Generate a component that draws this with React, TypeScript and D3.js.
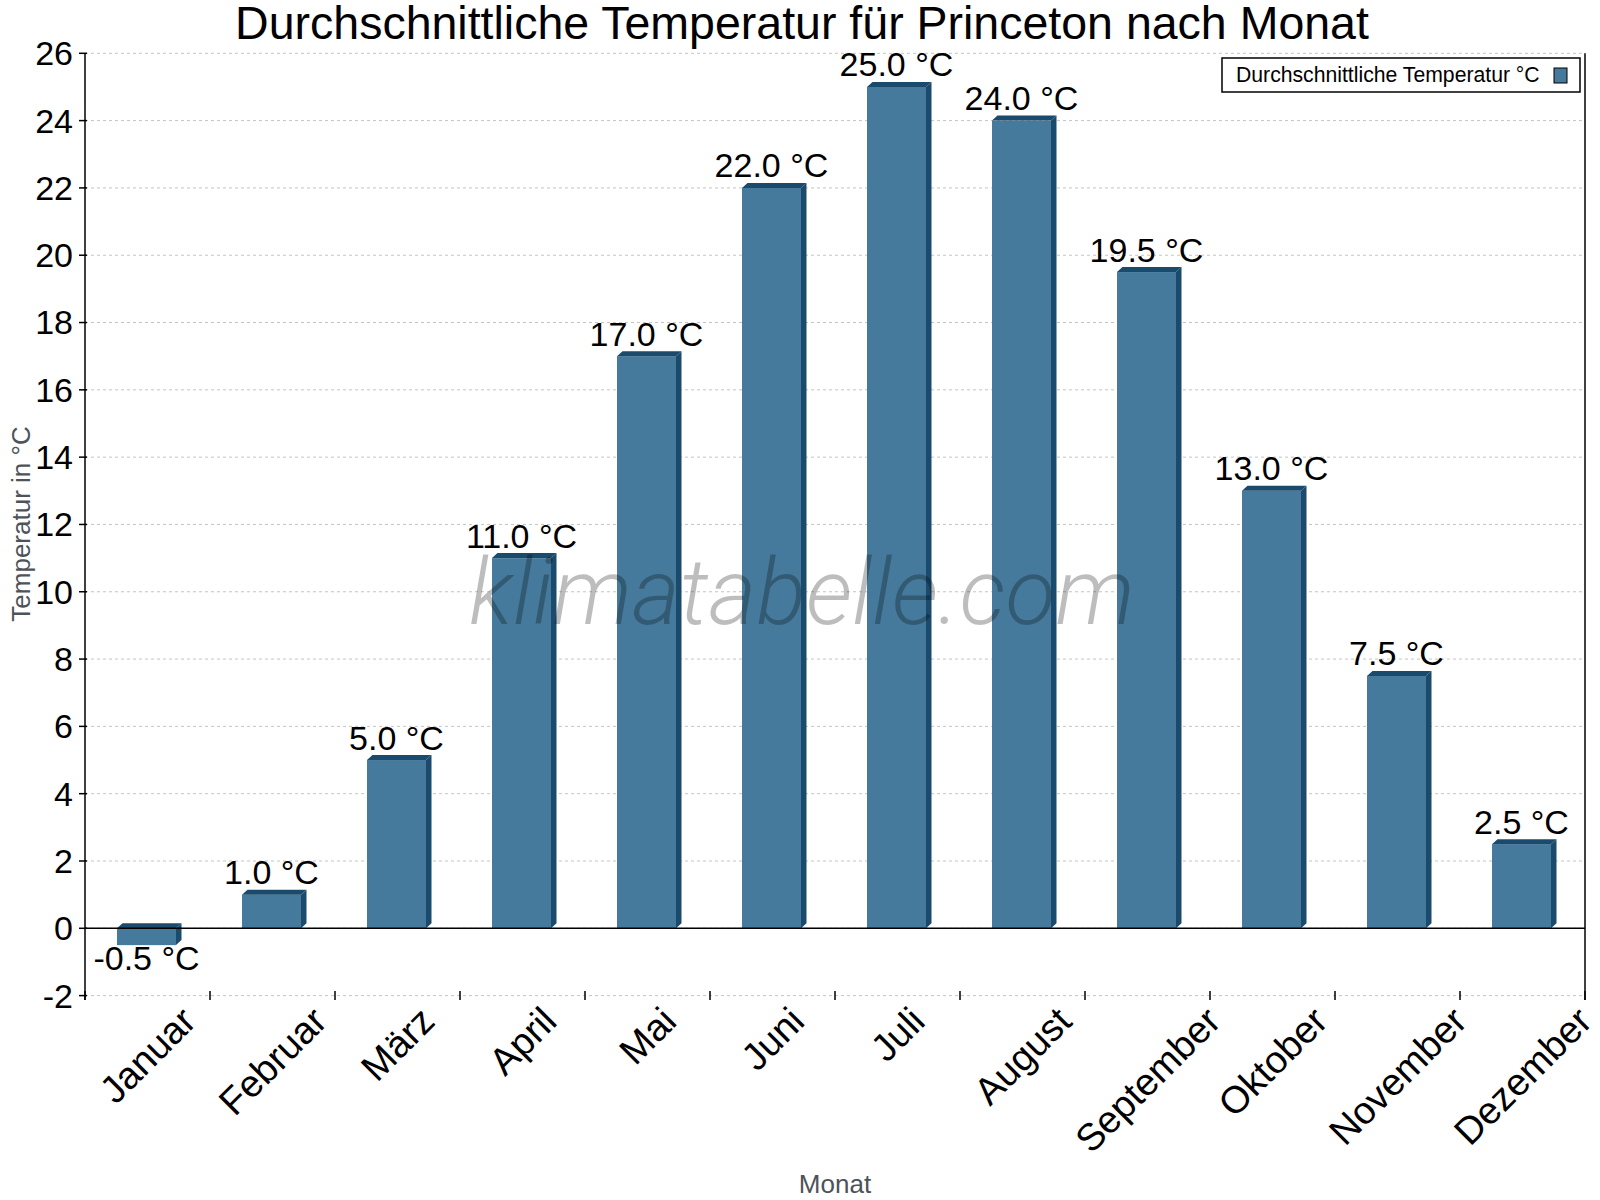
import React, { useEffect, useRef } from "react";
import * as d3 from "d3";

const months = ["Januar", "Februar", "März", "April", "Mai", "Juni", "Juli", "August", "September", "Oktober", "November", "Dezember"];
const temps = [-0.5, 1.0, 5.0, 11.0, 17.0, 22.0, 25.0, 24.0, 19.5, 13.0, 7.5, 2.5];
const yTicks = [-2, 0, 2, 4, 6, 8, 10, 12, 14, 16, 18, 20, 22, 24, 26];
const titleText = "Durchschnittliche Temperatur für Princeton nach Monat";
const legendText = "Durchschnittliche Temperatur °C";
const yLabel = "Temperatur in °C";
const xLabel = "Monat";
const watermark = "klimatabelle.com";

const W = 1600;
const H = 1200;
const FONT = "'Liberation Sans', Arial, sans-serif";
const FRONT = "#467a9c";
const DARK = "#1a4b6c";

export default function App() {
  const ref = useRef<SVGSVGElement | null>(null);

  useEffect(() => {
    const svg = d3.select(ref.current);
    svg.selectAll("*").remove();

    const left = 85, right = 1585, top = 53.3, bottom = 995.6;
    const x = d3.scaleBand<string>().domain(months).range([left, right]);
    const y = d3.scaleLinear().domain([-2, 26]).range([bottom, top]);
    const bw = x.bandwidth();

    // gridlines
    svg.append("g")
      .selectAll("line")
      .data(yTicks)
      .join("line")
      .attr("x1", left).attr("x2", right)
      .attr("y1", (d) => y(d)).attr("y2", (d) => y(d))
      .attr("stroke", "#c4c4c4")
      .attr("stroke-width", 1)
      .attr("stroke-dasharray", "3,3");

    // bars
    const dx = 5.5, dy = 5;
    const bars = svg.append("g");
    months.forEach((m, i) => {
      const v = temps[i];
      const x0 = (x(m) as number) + bw * 0.256;
      const w = bw * 0.472;
      const yt = Math.min(y(v), y(0));
      const yb = Math.max(y(v), y(0));
      bars.append("rect").attr("x", x0).attr("y", yt).attr("width", w).attr("height", yb - yt).attr("fill", FRONT);
      bars.append("polygon")
        .attr("points", [[x0, yt], [x0 + dx, yt - dy], [x0 + w + dx, yt - dy], [x0 + w, yt]].map((p) => p.join(",")).join(" "))
        .attr("fill", DARK);
      bars.append("polygon")
        .attr("points", [[x0 + w, yt], [x0 + w + dx, yt - dy], [x0 + w + dx, yb - dy], [x0 + w, yb]].map((p) => p.join(",")).join(" "))
        .attr("fill", DARK);
    });

    // zero line
    svg.append("line")
      .attr("x1", left).attr("x2", right)
      .attr("y1", y(0)).attr("y2", y(0))
      .attr("stroke", "#000").attr("stroke-width", 1.5);

    // axes lines
    svg.append("line").attr("x1", left).attr("x2", left).attr("y1", top).attr("y2", 1000)
      .attr("stroke", "#000").attr("stroke-width", 1.5);
    svg.append("line").attr("x1", right).attr("x2", right).attr("y1", top).attr("y2", 1000)
      .attr("stroke", "#000").attr("stroke-width", 1.5);
    svg.append("g").selectAll("line").data(yTicks).join("line")
      .attr("x1", left - 6).attr("x2", left + 2)
      .attr("y1", (d) => y(d)).attr("y2", (d) => y(d))
      .attr("stroke", "#000").attr("stroke-width", 1.5);
    svg.append("g").selectAll("text").data(yTicks).join("text")
      .attr("x", 73).attr("y", (d) => y(d))
      .attr("dy", "0.35em")
      .attr("text-anchor", "end")
      .attr("font-family", FONT).attr("font-size", 34)
      .attr("fill", "#000")
      .text((d) => String(d));

    // x ticks at band boundaries
    const bounds = months.map((m) => x(m) as number).concat([right]);
    svg.append("g").selectAll("line").data(bounds).join("line")
      .attr("x1", (d) => d).attr("x2", (d) => d)
      .attr("y1", 991).attr("y2", 1000)
      .attr("stroke", "#000").attr("stroke-width", 1.5);

    // x labels (rotated, bbox centred on band, top aligned)
    const fs = 38;
    const xl = svg.append("g");
    months.forEach((m) => {
      const cx = (x(m) as number) + bw / 2;
      const t = xl.append("text")
        .attr("text-anchor", "middle")
        .attr("dy", "0.35em")
        .attr("font-family", FONT).attr("font-size", fs)
        .attr("fill", "#000")
        .text(m);
      const w = (t.node() as SVGTextElement).getComputedTextLength();
      const h = fs * 1.117;
      const half = 0.7071 * (w + h) / 2;
      t.attr("transform", `translate(${cx},${999 + half}) rotate(-45)`);
    });

    // watermark
    svg.append("text")
      .attr("x", 469).attr("y", 624)
      .attr("font-family", "Roboto, 'Open Sans', sans-serif")
      .attr("font-weight", 300)
      .attr("font-style", "italic")
      .attr("font-size", 92)
      .attr("fill", "#000")
      .attr("fill-opacity", 0.26)
      .text(watermark);

    // data labels
    svg.append("g").selectAll("text").data(temps).join("text")
      .attr("x", (d, i) => (x(months[i]) as number) + bw * 0.256 + bw * 0.236)
      .attr("y", (d) => (d >= 0 ? y(d) - 10.5 : y(d) + 25))
      .attr("text-anchor", "middle")
      .attr("font-family", FONT).attr("font-size", 34)
      .attr("fill", "#000")
      .text((d) => `${d.toFixed(1)} °C`);

    // title
    svg.append("text")
      .attr("x", 802).attr("y", 39)
      .attr("text-anchor", "middle")
      .attr("font-family", FONT).attr("font-size", 46.5)
      .attr("fill", "#000")
      .text(titleText);

    // axis titles
    svg.append("text")
      .attr("transform", `translate(30,524) rotate(-90)`)
      .attr("text-anchor", "middle")
      .attr("font-family", FONT).attr("font-size", 26)
      .attr("fill", "#4d5359")
      .text(yLabel);
    svg.append("text")
      .attr("x", 835).attr("y", 1193)
      .attr("text-anchor", "middle")
      .attr("font-family", FONT).attr("font-size", 26)
      .attr("fill", "#4d5359")
      .text(xLabel);

    // legend
    const lg = svg.append("g");
    lg.append("rect").attr("x", 1222).attr("y", 58).attr("width", 358).attr("height", 34)
      .attr("fill", "#fff").attr("stroke", "#000").attr("stroke-width", 1.5);
    lg.append("text").attr("x", 1236).attr("y", 82.3)
      .attr("font-family", FONT).attr("font-size", 21.2).attr("fill", "#000")
      .text(legendText);
    lg.append("rect").attr("x", 1554).attr("y", 68).attr("width", 13).attr("height", 15)
      .attr("fill", FRONT).attr("stroke", "#000").attr("stroke-width", 1);
  }, []);

  return (
    <svg
      ref={ref}
      width={W}
      height={H}
      style={{ position: "absolute", left: 0, top: 0, background: "#fff" }}
    />
  );
}
